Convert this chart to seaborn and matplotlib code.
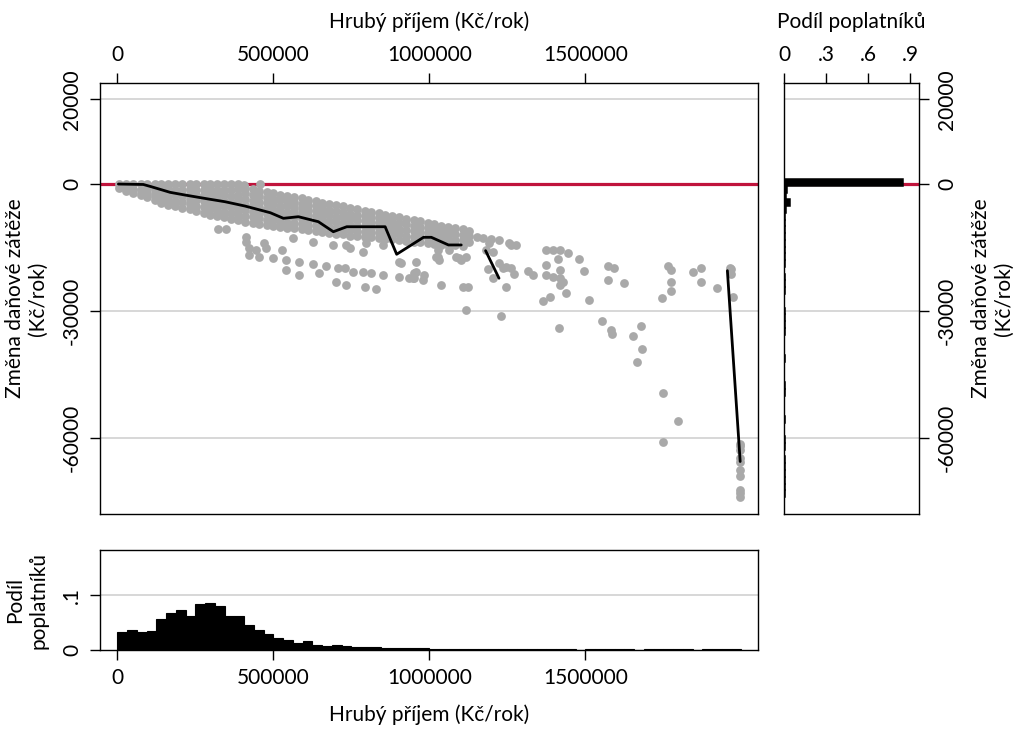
import seaborn as sns
import pandas as pd
import matplotlib.pyplot as plt

# dense band of points (x column -> list of y values), Kc/rok
band_x = [6000, 29000, 51000, 74000, 96000, 119000, 141000, 163000, 186000, 208000,
          231000, 253000, 276000, 298000, 320000, 343000, 365000, 388000, 410000, 433000,
          455000, 478000, 500000, 522000, 545000, 567000, 590000, 612000, 635000, 657000,
          679000, 702000, 724000, 747000, 769000, 792000, 814000, 837000, 859000, 881000,
          904000, 926000, 949000, 971000, 994000, 1016000, 1038000, 1061000, 1083000, 1106000,
          1128000]
band_y = [
    [0, -900], [0, -800, -1600], [0, -1100, -2200], [0, -1350, -2700],
    [0, -1000, -2100, -3100], [0, -1300, -2500, -3800], [0, -1100, -2200, -3400, -4500],
    [0, -1250, -2500, -3750, -5000], [0, -1300, -2600, -4000, -5300],
    [0, -1400, -2800, -4200, -5600], [0, -1200, -2400, -3600, -4800, -5900],
    [0, -1300, -2600, -3800, -5100, -6400], [0, -1400, -2700, -4100, -5400, -6800],
    [0, -1200, -2400, -3600, -4800, -6000, -7200], [0, -1300, -2500, -3800, -5100, -6300, -7600],
    [0, -1300, -2600, -4000, -5300, -6600, -7900], [0, -1400, -2800, -4200, -5500, -6900, -8300],
    [0, -1200, -2500, -3700, -4900, -6100, -7400, -8600],
    [-900, -2200, -3600, -4900, -6200, -7600, -8900],
    [-1200, -2500, -3900, -5200, -6500, -7900, -9200],
    [-1600, -2900, -4200, -5500, -6800, -8100, -9400],
    [-1900, -3200, -4500, -5800, -7100, -8400, -9700],
    [-2200, -3500, -4800, -6100, -7300, -8600, -9900],
    [-2500, -3800, -5100, -6400, -7600, -8900, -10200],
    [-2800, -4100, -5300, -6600, -7800, -9100, -10300],
    [-3100, -4300, -5500, -6700, -7900, -9200, -10400],
    [-3400, -4600, -5800, -7000, -8200, -9400, -10600],
    [-3800, -5000, -6200, -7300, -8500, -9700, -10900],
    [-4100, -5300, -6400, -7600, -8700, -9900, -11100],
    [-4400, -5600, -6700, -7900, -9000, -10200, -11300],
    [-4700, -6100, -7400, -8800, -10100, -11500],
    [-5000, -6300, -7700, -9000, -10400, -11700],
    [-5300, -6600, -7900, -9300, -10600, -11900],
    [-5700, -7000, -8300, -9600, -10900, -12200],
    [-6000, -7300, -8500, -9800, -11000, -12300],
    [-6300, -7500, -8800, -10000, -11300, -12500],
    [-6600, -7800, -9000, -10200, -11400, -12600],
    [-6900, -8100, -9300, -10400, -11600, -12800],
    [-7200, -8400, -9500, -10700, -11800, -13000],
    [-7600, -8700, -9800, -10900, -12000, -13100],
    [-7900, -9200, -10600, -11900, -13200],
    [-8200, -9500, -10900, -12200, -13500],
    [-8500, -9800, -11100, -12400, -13700],
    [-8800, -10100, -11300, -12600, -13800],
    [-9100, -10300, -11500, -12700, -13900],
    [-9400, -10600, -11800, -13000, -14200],
    [-9800, -10900, -12100, -13200, -14300],
    [-10100, -11200, -12300, -13300, -14400],
    [-10400, -11800, -13200, -14500],
    [-10700, -12000, -13300, -14600],
    [-11000, -12300, -13600],
]

# sparse points
out_x = [407000, 458000, 321000, 348000, 412000, 412000, 423000, 445000, 471000, 477000, 528000,
         423000, 455000, 498000, 541000, 583000, 626000, 669000, 706000,
         583000, 541000, 647000, 701000, 728000, 733000, 754000, 786000, 792000, 813000, 829000,
         850000, 904000, 909000, 936000, 952000, 957000, 984000, 1037000, 1107000, 1123000,
         786000, 744000, 1021000, 1032000, 1064000, 1086000, 1101000, 1118000,
         562000, 626000, 690000, 733000, 797000, 850000,
         904000, 947000, 979000, 957000, 952000, 1118000, 1027000, 1027000, 1096000,
         1187000, 1203000, 1224000, 1235000, 1246000, 1262000, 1272000, 1246000, 1230000,
         1182000, 1203000, 1192000, 1262000, 1278000,
         1151000, 1173000, 1196000, 1224000, 1256000,
         1315000, 1331000, 1374000, 1395000, 1417000, 1443000, 1411000, 1374000, 1417000,
         1374000, 1395000, 1417000, 1427000, 1417000, 1438000, 1385000, 1363000,
         1481000, 1497000, 1510000, 1414000, 1553000, 1582000, 1571000, 1593000, 1571000,
         1625000, 1678000, 1745000, 1764000, 1775000, 1775000, 1775000, 1844000, 1871000,
         1871000, 1921000, 1964000, 1972000,
         1585000, 1652000, 1680000, 1666000, 1748000, 1798000, 1748000, 1966000, 1968000,
         1996000, 1996000, 1996000, 1996000, 1996000, 1996000, 1996000, 1996000, 1996000, 1996000]
out_y = [-200, 0, -10600, -10600, -12400, -13600, -15200, -15700, -14000, -15200, -15600,
         -16800, -17200, -17600, -18000, -18400, -18900, -19400, -19900,
         -21500, -20300, -21100, -23100, -19900, -23900, -20700, -20700, -24400, -21100, -24900,
         -21500, -21900, -18700, -22300, -22300, -20700, -21500, -23900, -24300, -24300,
         -16000, -15200, -17200, -18000, -15600, -17200, -18000, -17200,
         -12800, -13600, -14400, -14400, -14000, -14400,
         -18400, -22300, -22700, -18400, -21100, -29800, -15600, -17300, -17600,
         -20100, -22300, -18700, -19900, -19500, -19900, -21300, -24300, -31300,
         -15600, -16000, -14000, -14400, -14400,
         -12400, -12700, -13000, -13200, -14000,
         -20500, -21500, -15600, -15600, -15600, -16400, -17800, -19100, -20300,
         -21500, -21900, -22300, -23100, -23900, -25800, -26600, -27600,
         -17700, -20500, -27400, -34100, -32300, -34500, -19400, -19900, -22700,
         -23500, -33500, -27000, -19400, -20300, -23100, -25300, -20700, -19900,
         -23100, -24600, -19900, -26600,
         -35400, -35900, -38900, -42000, -49400, -56100, -61100, -20100, -21300,
         -61400, -61900, -62800, -64800, -65600, -67600, -69000, -72300, -73100, -73900]

# mean line (three pieces)
line_x = [3000, 83000, 109000, 169000, 217000, 292000, 345000, 409000, 490000, 532000,
          580000, 644000, 692000, 735000, 858000, 895000, 981000, 1006000, 1061000, 1102000,
          1180000, 1223000,
          1955000, 1996000]
line_y = [0, -100, -640, -1960, -2600, -3540, -4180, -5200, -6780, -8100,
          -7720, -8900, -11270, -10090, -10090, -16600, -12590, -12590, -14400, -14400,
          -15750, -22270,
          -20480, -65600]
line_seg = [1] * 20 + [2] * 2 + [3] * 2

# share of taxpayers by income (bins of 31250 Kc)
inc_edges = list(range(0, 2000001, 31250))
inc_share = [.033, .036, .033, .034, .056, .067, .073, .061, .084, .086, .080, .062, .061, .045,
             .036, .029, .022, .018, .012, .017, .010, .007, .010, .007, .005, .005, .005, .004,
             .004, .004, .004, .003, .002, .002, .002, .0025, .002, .0015, .0025, .0015, .001,
             .0015, .0015, .0015, .001, .001, .0015, .0005, .001, .001, .001, .001, .001, .0005,
             .001, .001, .001, .001, .001, .0005, .001, .001, .0025, .001]

# share of taxpayers by change in tax burden (bins of 1600 Kc, from top)
chg_edges = [1200] + [-400 - 1600 * k for k in range(47)]
chg_share = [.848, .022, .012, .046, .012, .010, .010, .008, .008, .006, .005, .004, .004, .003,
             .008, .008, .007, .003, .003, .007, .007, .007, .006, .003, .003, .003, .006, .003,
             .003, .003, .006, .006, .003, .003, .003, .006, .003, .003, .006, .006, .003, .006,
             .006, .006, .006, .006, .006]

pts = pd.DataFrame({
    "x": [x for x, ys in zip(band_x, band_y) for _ in ys] + out_x,
    "y": [y for ys in band_y for y in ys] + out_y,
})
mean_df = pd.DataFrame({"x": line_x, "y": line_y, "seg": line_seg})
inc_df = pd.DataFrame({"mid": [(a + b) / 2 for a, b in zip(inc_edges[:-1], inc_edges[1:])],
                       "share": inc_share})
chg_mid = [(a + b) / 2 for a, b in zip(chg_edges[:-1], chg_edges[1:])]
chg_df = pd.DataFrame({"mid": chg_mid, "share": chg_share})
chg_bins = sorted(chg_edges)

sns.set_theme(style="ticks")
plt.rcParams["font.family"] = ["Lato", "DejaVu Sans"]
plt.rcParams["axes.linewidth"] = 1.0
plt.rcParams["axes.edgecolor"] = "black"
plt.rcParams["xtick.color"] = "black"
plt.rcParams["ytick.color"] = "black"
plt.rcParams["text.color"] = "black"
plt.rcParams["axes.labelcolor"] = "black"

GRAY = "#a9a9a9"
RED = "#c0143c"
GRID = "#d4d4d4"
FS = 15
ylab = "Změna daňové zátěže\n(Kč/rok)"
xlab = "Hrubý příjem (Kč/rok)"

fig = plt.figure(figsize=(10.2, 7.31), dpi=100)
ax = fig.add_axes([0.098, 0.2969, 0.6451, 0.5896])
axr = fig.add_axes([0.7686, 0.2969, 0.1324, 0.5896])
axb = fig.add_axes([0.098, 0.1108, 0.6451, 0.1368])

yticks = [20000, 0, -30000, -60000]
xticks = [0, 500000, 1000000, 1500000]

# main scatter
for t in yticks:
    ax.axhline(t, color=GRID, lw=1.3, zorder=0)
ax.axhline(0, color=RED, lw=2.3, zorder=1)
sns.scatterplot(data=pts, x="x", y="y", color=GRAY, s=40, linewidth=0, ax=ax, zorder=2)
sns.lineplot(data=mean_df, x="x", y="y", units="seg", estimator=None, sort=False,
             color="black", lw=2.0, ax=ax, zorder=3)
ax.set_xlim(-56000, 2053000)
ax.set_ylim(-78000, 23900)
ax.set_xticks(xticks)
ax.set_xticklabels([str(v) for v in xticks])
ax.set_yticks(yticks)
ax.set_yticklabels([str(v) for v in yticks], rotation=90, va="center")
ax.xaxis.tick_top()
ax.xaxis.set_label_position("top")
ax.set_xlabel(xlab, fontsize=FS, labelpad=12)
ax.set_ylabel(ylab, fontsize=FS, labelpad=10)
ax.tick_params(axis="both", length=7, width=1, labelsize=FS, pad=6)

# right histogram
for t in yticks:
    axr.axhline(t, color=GRID, lw=1.3, zorder=0)
axr.axhline(0, color=RED, lw=2.3, zorder=1)
sns.histplot(data=chg_df, y="mid", weights="share", bins=chg_bins, color="black",
             edgecolor="black", linewidth=1.1, alpha=1, ax=axr, zorder=2)
axr.set_xlim(0, 0.965)
axr.set_ylim(-78000, 23900)
axr.set_xticks([0, .3, .6, .9])
axr.set_xticklabels(["0", ".3", ".6", ".9"])
axr.set_yticks(yticks)
axr.set_yticklabels([str(v) for v in yticks], rotation=90, va="center")
axr.xaxis.tick_top()
axr.xaxis.set_label_position("top")
axr.yaxis.tick_right()
axr.yaxis.set_label_position("right")
axr.set_xlabel("Podíl poplatníků", fontsize=FS, labelpad=12)
axr.set_ylabel(ylab, fontsize=FS, rotation=90, labelpad=10)
axr.tick_params(axis="both", length=7, width=1, labelsize=FS, pad=6)

# bottom histogram
axb.axhline(0.1, color=GRID, lw=1.3, zorder=0)
sns.histplot(data=inc_df, x="mid", weights="share", bins=inc_edges, color="black",
             edgecolor="black", linewidth=0.8, alpha=1, ax=axb, zorder=2)
axb.set_xlim(-56000, 2053000)
axb.set_ylim(0, 0.182)
axb.set_xticks(xticks)
axb.set_xticklabels([str(v) for v in xticks])
axb.set_yticks([0, 0.1])
axb.set_yticklabels(["0", ".1"], rotation=90, va="center")
axb.set_xlabel(xlab, fontsize=FS, labelpad=12)
axb.set_ylabel("Podíl\npoplatníků", fontsize=FS, labelpad=10)
axb.tick_params(axis="both", length=7, width=1, labelsize=FS, pad=6)

fig.savefig("out.png", dpi=100, facecolor="white")
